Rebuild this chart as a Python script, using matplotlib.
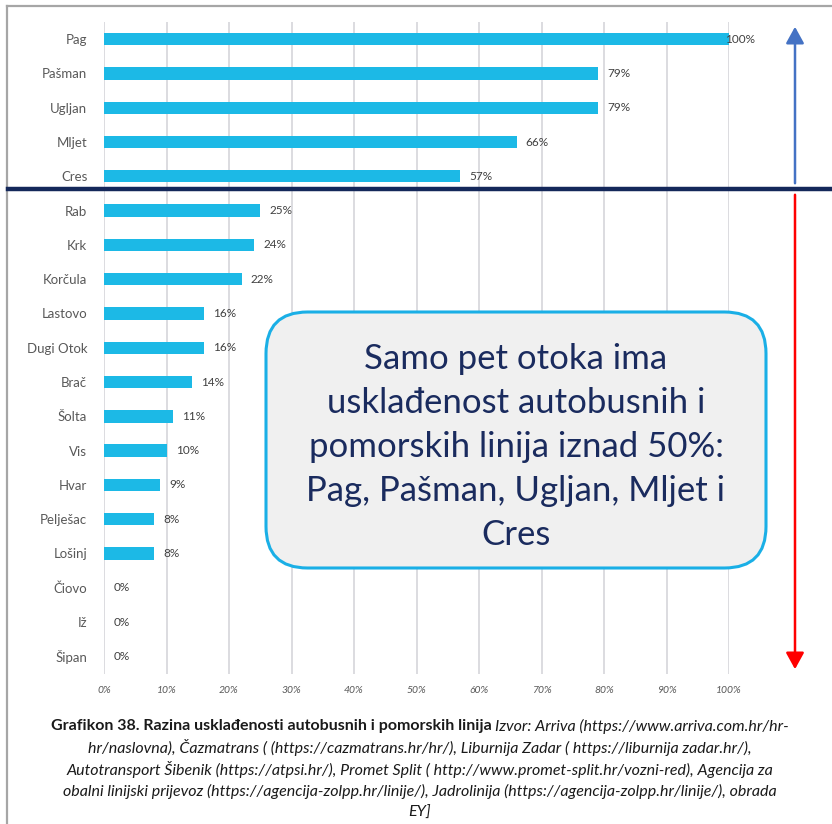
import matplotlib
matplotlib.use("Agg")
import matplotlib.pyplot as plt
from matplotlib.patches import FancyBboxPatch, FancyArrowPatch
from matplotlib.lines import Line2D

W, H = 832, 824

# data
otoci = ["Pag", "Pašman", "Ugljan", "Mljet", "Cres", "Rab", "Krk", "Korčula",
         "Lastovo", "Dugi Otok", "Brač", "Šolta", "Vis", "Hvar", "Pelješac",
         "Lošinj", "Čiovo", "Iž", "Šipan"]
uskladenost = [100, 79, 79, 66, 57, 25, 24, 22, 16, 16, 14, 11, 10, 9, 8, 8, 0, 0, 0]
x_ticks = [0, 10, 20, 30, 40, 50, 60, 70, 80, 90, 100]

box_text = ("Samo pet otoka ima\nusklađenost autobusnih i\n"
            "pomorskih linija iznad 50%:\nPag, Pašman, Ugljan, Mljet i\nCres")
caption_bold = "Grafikon 38. Razina usklađenosti autobusnih i pomorskih linija "
caption_lines = [
    "Izvor: Arriva (https://www.arriva.com.hr/hr-",
    "hr/naslovna), Čazmatrans ( (https://cazmatrans.hr/hr/), Liburnija Zadar ( https://liburnija zadar.hr/),",
    "Autotransport Šibenik (https://atpsi.hr/), Promet Split ( http://www.promet-split.hr/vozni-red), Agencija za",
    "obalni linijski prijevoz (https://agencija-zolpp.hr/linije/), Jadrolinija (https://agencija-zolpp.hr/linije/), obrada",
    "EY]",
]

plt.rcParams['font.family'] = ['Lato', 'DejaVu Sans']

fig = plt.figure(figsize=(W / 100, H / 100), dpi=100)


def fx(px):
    return px / W


def fy(py):
    return 1 - py / H


ax = fig.add_axes([fx(104), fy(673.5), fx(729) - fx(104), fy(22) - fy(673.5)])
ypos = list(range(len(otoci)))
ax.barh(ypos, uskladenost, height=0.36, color="#1cb9e6", zorder=3)
ax.set_ylim(len(otoci) - 0.5, -0.5)
ax.set_xlim(0, 100)
ax.set_yticks(ypos)
ax.set_yticklabels(otoci, fontsize=9.5, color="#595959")
ax.set_xticks(x_ticks)
ax.set_xticklabels([f"{t}%" for t in x_ticks], fontsize=7.5, color="#595959", style="italic")
ax.tick_params(length=0, pad=12, axis="y")
ax.tick_params(length=0, pad=9, axis="x")
ax.grid(axis="x", color="#d9d9dd", linewidth=1.3, zorder=0)
for s in ax.spines.values():
    s.set_visible(False)

for y, v in zip(ypos, uskladenost):
    xt = v + 1.5 if v < 100 else 99.4
    ax.text(xt, y, f"{v}%", va="center", ha="left", fontsize=8.5, color="#404040", zorder=4)

# outer gray frame (top and left)
fig.add_artist(Line2D([fx(7), fx(7)], [fy(6), 0], color="#a6a6a6", lw=1.6))
fig.add_artist(Line2D([fx(7), 1], [fy(6), fy(6)], color="#a6a6a6", lw=1.6))

# navy divider line
fig.add_artist(Line2D([fx(8), 1], [fy(189), fy(189)], color="#14285a", lw=3.2, zorder=5))

# arrows
fig.add_artist(FancyArrowPatch((fx(795), fy(186)), (fx(795), fy(24)),
                               transform=fig.transFigure, arrowstyle="-|>,head_length=10,head_width=5.5",
                               mutation_scale=1, color="#4472c4", lw=1.8))
fig.add_artist(FancyArrowPatch((fx(795), fy(192)), (fx(795), fy(672)),
                               transform=fig.transFigure, arrowstyle="-|>,head_length=10,head_width=5.5",
                               mutation_scale=1, color="#ff0000", lw=1.8))

# text box
box = FancyBboxPatch((fx(266), fy(568)), fx(766) - fx(266), fy(312) - fy(568),
                     boxstyle="round,pad=0,rounding_size=0.05",
                     transform=fig.transFigure, facecolor="#f0f0f0",
                     edgecolor="#1aafe6", linewidth=2.2, zorder=6,
                     mutation_aspect=(W / H))
fig.add_artist(box)
fig.text(fx(516), fy(447), box_text, ha="center", va="center", fontsize=25,
         color="#1a2b5e", linespacing=1.47, zorder=7)

# caption
cap_font = ['Liberation Sans Narrow', 'Lato', 'DejaVu Sans']
cap_size = 11.5
t1 = fig.text(0, fy(726), caption_bold, fontsize=cap_size, fontweight="bold",
              family=cap_font, color="#1a1a1a", va="center", ha="left")
t2 = fig.text(0, fy(726), caption_lines[0], fontsize=cap_size, style="italic",
              family=cap_font, color="#1a1a1a", va="center", ha="left")
fig.canvas.draw()
r = fig.canvas.get_renderer()
w1 = t1.get_window_extent(r).width
w2 = t2.get_window_extent(r).width
start = (W - (w1 + w2)) / 2 + 4
t1.set_x(start / W)
t2.set_x((start + w1) / W)
for i, line in enumerate(caption_lines[1:]):
    fig.text(fx(420), fy(748 + i * 21.6), line, fontsize=cap_size, style="italic",
             family=cap_font, color="#1a1a1a", va="center", ha="center")

fig.savefig("out.png", dpi=100)
